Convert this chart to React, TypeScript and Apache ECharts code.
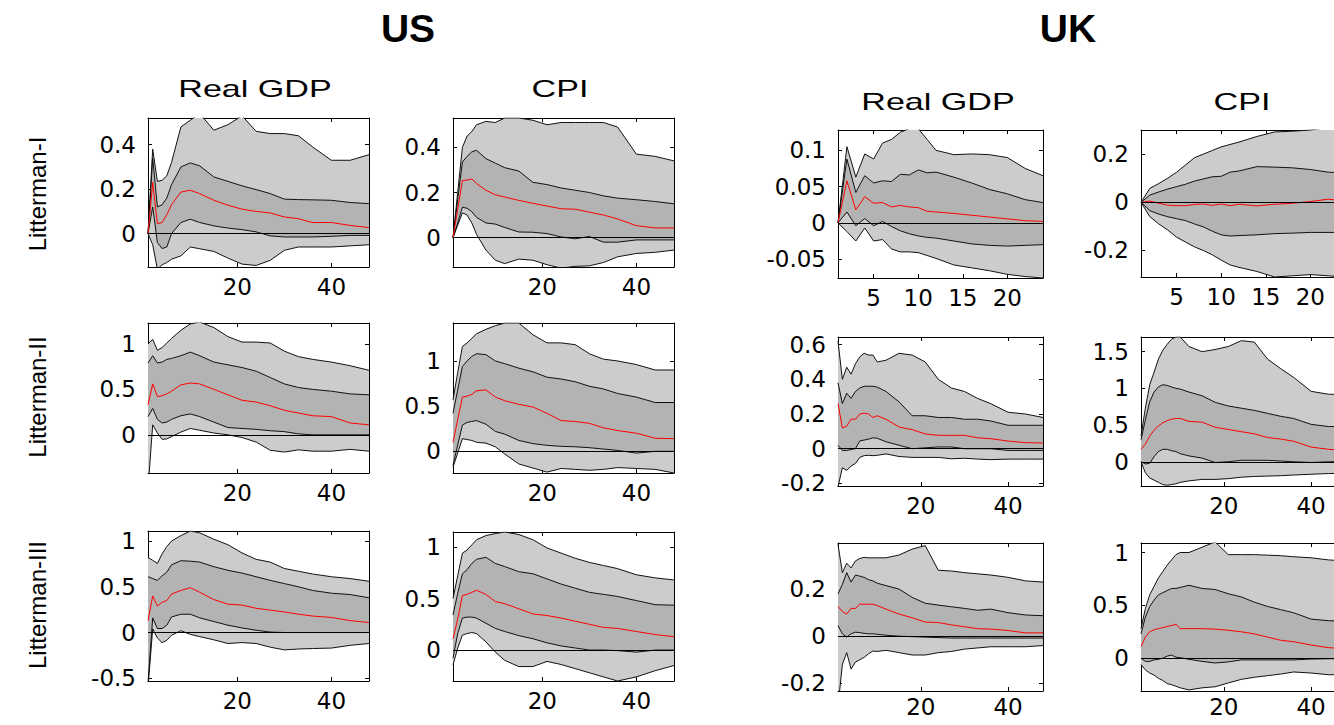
import React, { useEffect, useRef } from "react";
import * as echarts from "echarts";

// ---------- horizons ----------
const US_H = [1, 2, 3, 4, 5, 6, 8, 10, 12, 15, 18, 21, 24, 27, 30, 33, 36, 40, 44, 48];
const UK1_H = [1, 2, 3, 4, 5, 6, 7, 8, 9, 10, 11, 12, 14, 16, 18, 20, 22, 24];
const UK_H = [1, 2, 3, 4, 5, 6, 7, 8, 9, 10, 12, 15, 18, 21, 24, 27, 30, 33, 36, 40, 44, 48];

// ---------- tick labels ----------
const US_XTICKS = [20, 40];
const UK1_XTICKS = [5, 10, 15, 20];
const UK_XTICKS = [20, 40];

// ---------- US, Real GDP, Litterman-I ----------
const A_hi90 = [0, 0.38, 0.235, 0.24, 0.26, 0.32, 0.48, 0.51, 0.54, 0.465, 0.49, 0.53, 0.46, 0.45, 0.45, 0.44, 0.39, 0.33, 0.33, 0.355];
const A_hi68 = [0, 0.34, 0.12, 0.13, 0.16, 0.22, 0.3, 0.318, 0.305, 0.255, 0.235, 0.215, 0.198, 0.18, 0.155, 0.153, 0.152, 0.15, 0.14, 0.135];
const A_med = [0, 0.23, 0.045, 0.05, 0.085, 0.13, 0.187, 0.195, 0.18, 0.15, 0.128, 0.11, 0.1, 0.093, 0.075, 0.067, 0.05, 0.05, 0.037, 0.027];
const A_lo68 = [0, 0.12, -0.04, -0.067, -0.06, 0.0, 0.05, 0.065, 0.05, 0.035, 0.025, 0.018, 0.008, -0.01, -0.015, -0.015, -0.015, -0.012, -0.008, -0.008];
const A_lo90 = [0, -0.05, -0.16, -0.14, -0.13, -0.115, -0.1, -0.06, -0.068, -0.08, -0.11, -0.137, -0.143, -0.12, -0.075, -0.06, -0.06, -0.06, -0.055, -0.05];
const A_YT = [0, 0.2, 0.4];

// ---------- US, CPI, Litterman-I ----------
const B_hi90 = [0, 0.2, 0.4, 0.45, 0.47, 0.5, 0.515, 0.51, 0.53, 0.53, 0.52, 0.5, 0.51, 0.51, 0.51, 0.51, 0.49, 0.37, 0.36, 0.34];
const B_hi68 = [0, 0.17, 0.335, 0.36, 0.38, 0.387, 0.35, 0.33, 0.31, 0.295, 0.245, 0.235, 0.22, 0.21, 0.2, 0.185, 0.175, 0.168, 0.16, 0.15];
const B_med = [0, 0.125, 0.253, 0.255, 0.26, 0.24, 0.21, 0.19, 0.18, 0.165, 0.152, 0.14, 0.128, 0.126, 0.113, 0.1, 0.083, 0.053, 0.043, 0.043];
const B_lo68 = [0, 0.065, 0.135, 0.13, 0.115, 0.09, 0.065, 0.06, 0.045, 0.025, 0.024, 0.018, 0.003, -0.005, 0.005, -0.02, -0.02, -0.01, -0.01, -0.01];
const B_lo90 = [0, 0.055, 0.11, 0.1, 0.065, 0.015, -0.055, -0.1, -0.115, -0.095, -0.1, -0.12, -0.135, -0.127, -0.125, -0.11, -0.085, -0.07, -0.065, -0.055];
const B_YT = [0, 0.2, 0.4];

// ---------- US, Real GDP, Litterman-II ----------
const C_hi90 = [1.0, 1.05, 0.93, 0.96, 1.01, 1.06, 1.15, 1.22, 1.24, 1.18, 1.08, 1.02, 1.02, 1.01, 0.92, 0.86, 0.83, 0.8, 0.76, 0.71];
const C_hi68 = [0.79, 0.87, 0.79, 0.8, 0.83, 0.84, 0.87, 0.91, 0.87, 0.8, 0.77, 0.74, 0.7, 0.63, 0.56, 0.52, 0.5, 0.48, 0.45, 0.44];
const C_med = [0.33, 0.56, 0.42, 0.43, 0.45, 0.48, 0.55, 0.57, 0.56, 0.5, 0.44, 0.38, 0.36, 0.32, 0.27, 0.24, 0.21, 0.2, 0.13, 0.11];
const C_lo68 = [0.2, 0.29, 0.17, 0.13, 0.14, 0.17, 0.21, 0.23, 0.2, 0.14, 0.08, 0.07, 0.06, 0.045, 0.035, 0.01, 0.0, 0.0, 0.0, 0.0];
const C_lo90 = [-0.6, 0.11, 0.02, -0.05, -0.045, -0.02, 0.03, 0.07, 0.05, 0.02, 0.0, -0.03, -0.08, -0.17, -0.19, -0.165, -0.18, -0.18, -0.16, -0.18];
const C_YT = [0, 0.5, 1];

// ---------- US, CPI, Litterman-II ----------
const D_hi90 = [0.57, 0.87, 1.16, 1.2, 1.25, 1.3, 1.35, 1.39, 1.42, 1.42, 1.29, 1.2, 1.2, 1.18, 1.08, 1.02, 1.0, 0.96, 0.9, 0.9];
const D_hi68 = [0.42, 0.68, 0.94, 1.0, 1.05, 1.08, 1.07, 1.0, 0.97, 0.92, 0.88, 0.82, 0.8, 0.77, 0.72, 0.69, 0.64, 0.6, 0.54, 0.54];
const D_med = [0.1, 0.35, 0.6, 0.61, 0.63, 0.67, 0.68, 0.6, 0.56, 0.52, 0.49, 0.42, 0.34, 0.33, 0.31, 0.26, 0.23, 0.2, 0.145, 0.14];
const D_lo68 = [-0.155, 0.07, 0.29, 0.32, 0.33, 0.34, 0.3, 0.22, 0.19, 0.12, 0.085, 0.066, 0.055, 0.05, 0.04, 0.025, 0.01, -0.02, 0.0, 0.0];
const D_lo90 = [-0.175, -0.02, 0.14, 0.13, 0.12, 0.1, 0.09, 0.05, -0.03, -0.14, -0.185, -0.23, -0.19, -0.2, -0.21, -0.2, -0.18, -0.19, -0.2, -0.24];
const D_YT = [0, 0.5, 1];

// ---------- US, Real GDP, Litterman-III ----------
const E_hi90 = [0.82, 0.79, 0.755, 0.86, 0.94, 1.0, 1.06, 1.11, 1.09, 1.02, 0.96, 0.87, 0.8, 0.77, 0.7, 0.67, 0.64, 0.61, 0.59, 0.56];
const E_hi68 = [0.61, 0.59, 0.57, 0.62, 0.66, 0.74, 0.785, 0.78, 0.77, 0.72, 0.68, 0.65, 0.61, 0.57, 0.535, 0.5, 0.46, 0.43, 0.415, 0.38];
const E_med = [0.13, 0.4, 0.29, 0.33, 0.35, 0.42, 0.46, 0.49, 0.44, 0.36, 0.31, 0.3, 0.265, 0.245, 0.225, 0.2, 0.18, 0.165, 0.13, 0.11];
const E_lo68 = [-0.55, 0.16, 0.044, 0.044, 0.08, 0.17, 0.2, 0.2, 0.16, 0.12, 0.08, 0.05, 0.025, 0.005, 0.0, 0.0, 0.0, 0.0, 0.0, 0.0];
const E_lo90 = [-0.6, 0.04, -0.06, -0.11, -0.085, -0.03, 0.02, -0.02, -0.045, -0.08, -0.12, -0.11, -0.12, -0.16, -0.19, -0.18, -0.175, -0.17, -0.14, -0.12];
const E_YT = [-0.5, 0, 0.5, 1];

// ---------- US, CPI, Litterman-III ----------
const F_hi90 = [0.5, 0.72, 0.94, 0.97, 1.02, 1.07, 1.11, 1.13, 1.145, 1.12, 1.07, 0.99, 0.94, 0.89, 0.85, 0.82, 0.79, 0.73, 0.7, 0.68];
const F_hi68 = [0.34, 0.55, 0.74, 0.78, 0.84, 0.88, 0.9, 0.84, 0.81, 0.76, 0.74, 0.69, 0.64, 0.6, 0.56, 0.54, 0.52, 0.48, 0.44, 0.435];
const F_med = [0.11, 0.3, 0.53, 0.54, 0.56, 0.58, 0.54, 0.47, 0.45, 0.4, 0.35, 0.335, 0.31, 0.28, 0.25, 0.22, 0.21, 0.18, 0.15, 0.13];
const F_lo68 = [-0.08, 0.16, 0.31, 0.32, 0.32, 0.31, 0.26, 0.21, 0.18, 0.14, 0.11, 0.07, 0.04, 0.02, 0.0, 0.0, -0.005, -0.02, 0.0, 0.0];
const F_lo90 = [-0.145, 0.02, 0.145, 0.16, 0.17, 0.16, 0.08, -0.02, -0.1, -0.16, -0.16, -0.11, -0.14, -0.18, -0.22, -0.26, -0.3, -0.26, -0.2, -0.15];
const F_YT = [0, 0.5, 1];

// ---------- UK, Real GDP, Litterman-I ----------
const G_hi90 = [0, 0.105, 0.063, 0.095, 0.088, 0.11, 0.115, 0.125, 0.13, 0.13, 0.115, 0.1, 0.094, 0.095, 0.094, 0.09, 0.075, 0.065];
const G_hi68 = [0, 0.088, 0.042, 0.065, 0.055, 0.058, 0.057, 0.067, 0.066, 0.073, 0.069, 0.07, 0.063, 0.055, 0.046, 0.04, 0.032, 0.028];
const G_med = [0, 0.058, 0.018, 0.036, 0.027, 0.028, 0.022, 0.024, 0.022, 0.021, 0.016, 0.015, 0.013, 0.0105, 0.008, 0.0055, 0.003, 0.002];
const G_lo68 = [0, 0.015, -0.004, 0.006, -0.004, 0.002, -0.005, -0.011, -0.015, -0.018, -0.02, -0.021, -0.025, -0.029, -0.031, -0.032, -0.031, -0.03];
const G_lo90 = [0, -0.012, -0.025, -0.007, -0.025, -0.023, -0.036, -0.04, -0.04, -0.041, -0.045, -0.049, -0.058, -0.062, -0.066, -0.071, -0.074, -0.076];
const G_YT = [-0.05, 0, 0.05, 0.1];

// ---------- UK, CPI, Litterman-I ----------
const H_hi90 = [0, 0.058, 0.078, 0.1, 0.125, 0.155, 0.185, 0.2, 0.215, 0.23, 0.24, 0.25, 0.273, 0.292, 0.295, 0.3, 0.31, 0.31];
const H_hi68 = [0, 0.03, 0.043, 0.055, 0.065, 0.075, 0.088, 0.097, 0.106, 0.108, 0.125, 0.13, 0.148, 0.146, 0.143, 0.136, 0.125, 0.122];
const H_med = [0, 0.005, -0.004, -0.012, -0.014, -0.014, -0.009, -0.007, -0.013, -0.007, -0.014, -0.008, -0.015, -0.008, -0.004, 0.003, 0.013, 0.005];
const H_lo68 = [0, -0.035, -0.049, -0.06, -0.068, -0.076, -0.09, -0.102, -0.12, -0.135, -0.14, -0.138, -0.135, -0.13, -0.128, -0.125, -0.125, -0.125];
const H_lo90 = [0, -0.06, -0.09, -0.115, -0.145, -0.165, -0.185, -0.2, -0.218, -0.24, -0.26, -0.27, -0.287, -0.31, -0.305, -0.3, -0.305, -0.31];
const H_YT = [-0.2, 0, 0.2];

// ---------- UK, Real GDP, Litterman-II ----------
const I_hi90 = [0.62, 0.4, 0.47, 0.43, 0.49, 0.53, 0.55, 0.54, 0.54, 0.5, 0.51, 0.55, 0.54, 0.5, 0.4, 0.35, 0.33, 0.29, 0.26, 0.21, 0.2, 0.18];
const I_hi68 = [0.38, 0.26, 0.32, 0.29, 0.33, 0.35, 0.36, 0.36, 0.36, 0.355, 0.33, 0.27, 0.19, 0.19, 0.18, 0.18, 0.17, 0.17, 0.16, 0.135, 0.135, 0.135];
const I_med = [0.26, 0.12, 0.13, 0.17, 0.17, 0.2, 0.205, 0.2, 0.18, 0.19, 0.17, 0.125, 0.11, 0.085, 0.077, 0.077, 0.077, 0.063, 0.058, 0.044, 0.035, 0.033];
const I_lo68 = [0.02, -0.01, -0.01, -0.005, 0.0, 0.045, 0.05, 0.055, 0.063, 0.06, 0.04, 0.02, 0.0, 0.005, 0.01, 0.01, 0.0, 0.0, 0.0, -0.01, -0.01, -0.01];
const I_lo90 = [-0.22, -0.11, -0.125, -0.1, -0.085, -0.05, -0.04, -0.038, -0.04, -0.038, -0.03, -0.045, -0.05, -0.05, -0.05, -0.058, -0.055, -0.06, -0.063, -0.06, -0.06, -0.06];
const I_YT = [-0.2, 0, 0.2, 0.4, 0.6];

// ---------- UK, CPI, Litterman-II ----------
const J_hi90 = [0.35, 0.73, 1.05, 1.22, 1.4, 1.52, 1.6, 1.67, 1.7, 1.7, 1.57, 1.5, 1.53, 1.57, 1.65, 1.63, 1.4, 1.27, 1.15, 0.96, 0.92, 0.92];
const J_hi68 = [0.3, 0.57, 0.82, 0.95, 1.02, 1.05, 1.04, 1.02, 1.0, 0.99, 0.95, 0.9, 0.81, 0.76, 0.73, 0.7, 0.66, 0.62, 0.59, 0.51, 0.48, 0.48];
const J_med = [0.17, 0.24, 0.35, 0.43, 0.49, 0.53, 0.56, 0.58, 0.59, 0.59, 0.55, 0.54, 0.47, 0.44, 0.41, 0.38, 0.33, 0.31, 0.28, 0.2, 0.17, 0.15];
const J_lo68 = [0.0, -0.03, -0.02, 0.07, 0.14, 0.17, 0.17, 0.15, 0.14, 0.11, 0.08, 0.05, -0.01, 0.0, 0.02, 0.02, 0.02, 0.01, 0.0, -0.01, 0.0, 0.0];
const J_lo90 = [0.0, -0.15, -0.22, -0.25, -0.28, -0.31, -0.32, -0.31, -0.3, -0.28, -0.26, -0.24, -0.24, -0.23, -0.21, -0.2, -0.195, -0.19, -0.18, -0.17, -0.16, -0.16];
const J_YT = [0, 0.5, 1, 1.5];

// ---------- UK, Real GDP, Litterman-III ----------
const K_hi90 = [0.39, 0.27, 0.31, 0.29, 0.32, 0.33, 0.335, 0.333, 0.333, 0.333, 0.333, 0.345, 0.37, 0.385, 0.28, 0.277, 0.27, 0.265, 0.26, 0.25, 0.235, 0.23];
const K_hi68 = [0.18, 0.22, 0.27, 0.23, 0.26, 0.255, 0.25, 0.24, 0.235, 0.225, 0.215, 0.2, 0.165, 0.14, 0.132, 0.125, 0.118, 0.11, 0.115, 0.1, 0.09, 0.087];
const K_med = [0.126, 0.105, 0.094, 0.118, 0.118, 0.136, 0.136, 0.136, 0.136, 0.13, 0.115, 0.094, 0.078, 0.06, 0.058, 0.048, 0.04, 0.032, 0.03, 0.024, 0.014, 0.014];
const K_lo68 = [0.045, 0.01, -0.004, 0.01, 0.017, 0.015, 0.012, 0.01, 0.01, 0.008, 0.004, 0.0, -0.002, -0.004, -0.006, -0.008, -0.008, -0.008, -0.008, -0.008, -0.008, -0.008];
const K_lo90 = [-0.3, -0.12, -0.07, -0.14, -0.11, -0.1, -0.09, -0.075, -0.063, -0.065, -0.06, -0.07, -0.08, -0.08, -0.07, -0.065, -0.055, -0.05, -0.045, -0.045, -0.045, -0.04];
const K_YT = [-0.2, 0, 0.2];

// ---------- UK, CPI, Litterman-III ----------
const L_hi90 = [0.28, 0.47, 0.6, 0.68, 0.76, 0.82, 0.88, 0.93, 0.98, 1.0, 1.0, 1.05, 1.1, 0.98, 0.98, 0.98, 0.975, 0.97, 0.96, 0.95, 0.93, 0.92];
const L_hi68 = [0.23, 0.39, 0.49, 0.55, 0.6, 0.62, 0.64, 0.66, 0.66, 0.67, 0.69, 0.66, 0.65, 0.61, 0.58, 0.53, 0.49, 0.46, 0.43, 0.37, 0.355, 0.35];
const L_med = [0.11, 0.2, 0.25, 0.27, 0.28, 0.29, 0.3, 0.31, 0.32, 0.28, 0.28, 0.28, 0.275, 0.265, 0.25, 0.23, 0.2, 0.17, 0.156, 0.125, 0.1, 0.09];
const L_lo68 = [0.0, -0.03, -0.03, -0.015, -0.01, 0.0, 0.02, 0.03, 0.01, 0.005, -0.01, -0.03, -0.045, -0.035, -0.016, -0.016, -0.016, -0.016, -0.016, -0.008, -0.005, -0.005];
const L_lo90 = [-0.06, -0.11, -0.14, -0.16, -0.19, -0.21, -0.24, -0.25, -0.265, -0.28, -0.3, -0.28, -0.27, -0.234, -0.2, -0.18, -0.165, -0.15, -0.13, -0.14, -0.156, -0.156];
const L_YT = [0, 0.5, 1];

// ---------- panel layout ----------
const PANELS = [
  { h: US_H, lo90: A_lo90, lo68: A_lo68, med: A_med, hi68: A_hi68, hi90: A_hi90, box: [148, 118, 221, 149], xMax: 48, xt: US_XTICKS, yMin: -0.15, yMax: 0.52, yt: A_YT, xm: 8 },
  { h: US_H, lo90: B_lo90, lo68: B_lo68, med: B_med, hi68: B_hi68, hi90: B_hi90, box: [453, 118, 221, 149], xMax: 48, xt: US_XTICKS, yMin: -0.13, yMax: 0.53, yt: B_YT, xm: 8 },
  { h: US_H, lo90: C_lo90, lo68: C_lo68, med: C_med, hi68: C_hi68, hi90: C_hi90, box: [148, 323, 221, 150], xMax: 48, xt: US_XTICKS, yMin: -0.42, yMax: 1.23, yt: C_YT, xm: 8 },
  { h: US_H, lo90: D_lo90, lo68: D_lo68, med: D_med, hi68: D_hi68, hi90: D_hi90, box: [453, 323, 221, 150], xMax: 48, xt: US_XTICKS, yMin: -0.24, yMax: 1.42, yt: D_YT, xm: 8 },
  { h: US_H, lo90: E_lo90, lo68: E_lo68, med: E_med, hi68: E_hi68, hi90: E_hi90, box: [148, 531, 221, 150], xMax: 48, xt: US_XTICKS, yMin: -0.53, yMax: 1.11, yt: E_YT, xm: 8 },
  { h: US_H, lo90: F_lo90, lo68: F_lo68, med: F_med, hi68: F_hi68, hi90: F_hi90, box: [453, 532, 221, 149], xMax: 48, xt: US_XTICKS, yMin: -0.3, yMax: 1.145, yt: F_YT, xm: 8 },
  { h: UK1_H, lo90: G_lo90, lo68: G_lo68, med: G_med, hi68: G_hi68, hi90: G_hi90, box: [838, 130, 205, 148], xMax: 24, xt: UK1_XTICKS, yMin: -0.076, yMax: 0.128, yt: G_YT, xm: 8 },
  { h: UK1_H, lo90: H_lo90, lo68: H_lo68, med: H_med, hi68: H_hi68, hi90: H_hi90, box: [1141, 130, 205, 147], xMax: 24, xt: UK1_XTICKS, yMin: -0.31, yMax: 0.3, yt: H_YT, xm: 8 },
  { h: UK_H, lo90: I_lo90, lo68: I_lo68, med: I_med, hi68: I_hi68, hi90: I_hi90, box: [838, 337, 205, 149], xMax: 48, xt: UK_XTICKS, yMin: -0.215, yMax: 0.644, yt: I_YT, xm: 8 },
  { h: UK_H, lo90: J_lo90, lo68: J_lo68, med: J_med, hi68: J_hi68, hi90: J_hi90, box: [1141, 337, 205, 149], xMax: 48, xt: UK_XTICKS, yMin: -0.33, yMax: 1.7, yt: J_YT, xm: 8 },
  { h: UK_H, lo90: K_lo90, lo68: K_lo68, med: K_med, hi68: K_hi68, hi90: K_hi90, box: [838, 543, 205, 148], xMax: 48, xt: UK_XTICKS, yMin: -0.233, yMax: 0.396, yt: K_YT, xm: 4 },
  { h: UK_H, lo90: L_lo90, lo68: L_lo68, med: L_med, hi68: L_hi68, hi90: L_hi90, box: [1141, 543, 205, 148], xMax: 48, xt: UK_XTICKS, yMin: -0.31, yMax: 1.09, yt: L_YT, xm: 4 },
];

const TICK_FONT = "'DejaVu Sans', 'Liberation Sans', sans-serif";
const TITLE_FONT = "'Liberation Sans', Arial, sans-serif";
const LIGHT = "#cccccc";
const DARK = "#b3b3b3";
const EDGE = "#111111";

function buildOption() {
  const grid: any[] = [];
  const xAxis: any[] = [];
  const yAxis: any[] = [];
  const series: any[] = [];
  const fmt = (v: number) => String(Math.round(v * 1000) / 1000);

  PANELS.forEach((p, i) => {
    const [left, top, width, height] = p.box;
    grid.push({ left, top, width, height, containLabel: false, outerBoundsMode: "none", show: false });

    const axisLine = { show: true, onZero: false, lineStyle: { color: "#000", width: 1 } };
    const xCommon = {
      type: "value", gridIndex: i, min: 1, max: p.xMax,
      splitLine: { show: false }, axisLine,
      axisTick: { show: true, inside: true, length: 4, customValues: p.xt, lineStyle: { color: "#000", width: 1 } },
    };
    xAxis.push({ ...xCommon, position: "bottom",
      axisLabel: { show: true, customValues: p.xt, margin: p.xm, color: "#000", fontFamily: TICK_FONT, fontSize: 23, formatter: fmt } });
    xAxis.push({ ...xCommon, position: "top", axisLabel: { show: false } });

    const yCommon = {
      type: "value", gridIndex: i, min: p.yMin, max: p.yMax,
      splitLine: { show: false }, axisLine,
      axisTick: { show: true, inside: true, length: 4, customValues: p.yt, lineStyle: { color: "#000", width: 1 } },
    };
    yAxis.push({ ...yCommon, position: "left",
      axisLabel: { show: true, customValues: p.yt, margin: 12, color: "#000", fontFamily: TICK_FONT, fontSize: 23, formatter: fmt } });
    yAxis.push({ ...yCommon, position: "right", axisLabel: { show: false } });

    const xi = 2 * i;
    const yi = 2 * i;
    const pts = (vals: number[]) => p.h.map((x, k) => [x, vals[k]]);

    // shaded bands: polygons between the band edges, placed with the axes' own scales
    series.push({
      type: "custom", xAxisIndex: xi, yAxisIndex: yi, silent: true, clip: true,
      data: pts(p.med),
      renderItem: (params: any, api: any) => {
        if (params.dataIndex !== 0) return null;
        const cs = params.coordSys;
        const poly = (lo: number[], hi: number[]) => [
          ...p.h.map((x, k) => api.coord([x, lo[k]])),
          ...p.h.map((x, k) => api.coord([x, hi[k]])).reverse(),
        ];
        return {
          type: "group",
          clipPath: { type: "rect", shape: { x: cs.x, y: cs.y, width: cs.width, height: cs.height } },
          children: [
            { type: "polygon", shape: { points: poly(p.lo90, p.hi90) }, style: { fill: LIGHT } },
            { type: "polygon", shape: { points: poly(p.lo68, p.hi68) }, style: { fill: DARK } },
          ],
        };
      },
    });

    const edge = (vals: number[], withZero: boolean) => ({
      type: "line", xAxisIndex: xi, yAxisIndex: yi, data: pts(vals), symbol: "none", showSymbol: false,
      silent: true, lineStyle: { color: EDGE, width: 1 }, emphasis: { disabled: true },
      markLine: withZero ? {
        silent: true, symbol: ["none", "none"], label: { show: false },
        lineStyle: { color: "#000", width: 1, type: "solid" },
        data: [{ yAxis: 0 }],
      } : undefined,
    });
    series.push(edge(p.lo90, true));
    series.push(edge(p.lo68, false));
    series.push(edge(p.hi68, false));
    series.push(edge(p.hi90, false));
    series.push({
      type: "line", xAxisIndex: xi, yAxisIndex: yi, data: pts(p.med), symbol: "none", showSymbol: false,
      silent: true, lineStyle: { color: "#ff0000", width: 1 }, emphasis: { disabled: true },
    });
  });

  const textEl = (text: string, x: number, y: number, size: number, bold: boolean, extra: any = {}) => ({
    type: "text", x, y, silent: true, ...extra,
    style: {
      text, x: 0, y: 0, fill: "#000", fontSize: size, fontFamily: TITLE_FONT,
      fontWeight: bold ? "bold" : "normal", textAlign: "center", textVerticalAlign: "middle",
    },
  });

  const graphic = [
    textEl("US", 408, 28, 39, true),
    textEl("UK", 1068, 28, 39, true),
    textEl("Real GDP", 255, 88, 24, false, { scaleX: 1.42 }),
    textEl("CPI", 560, 88, 24, false, { scaleX: 1.42 }),
    textEl("Real GDP", 938, 101, 24, false, { scaleX: 1.42 }),
    textEl("CPI", 1242, 101, 24, false, { scaleX: 1.42 }),
    textEl("Litterman-I", 37, 194, 24, false, { rotation: Math.PI / 2 }),
    textEl("Litterman-II", 37, 397, 24, false, { rotation: Math.PI / 2 }),
    textEl("Litterman-III", 37, 605, 24, false, { rotation: Math.PI / 2 }),
  ];

  return {
    animation: false,
    backgroundColor: "#ffffff",
    grid, xAxis, yAxis, series, graphic,
  };
}

export default function App() {
  const ref = useRef<HTMLDivElement>(null);
  useEffect(() => {
    if (!ref.current) return;
    const chart = echarts.init(ref.current, null, { renderer: "svg" });
    chart.setOption(buildOption() as any);
    return () => chart.dispose();
  }, []);
  return (
    <div
      ref={ref}
      style={{ position: "fixed", left: 0, top: 0, width: 1334, height: 725, background: "#fff" }}
    />
  );
}
